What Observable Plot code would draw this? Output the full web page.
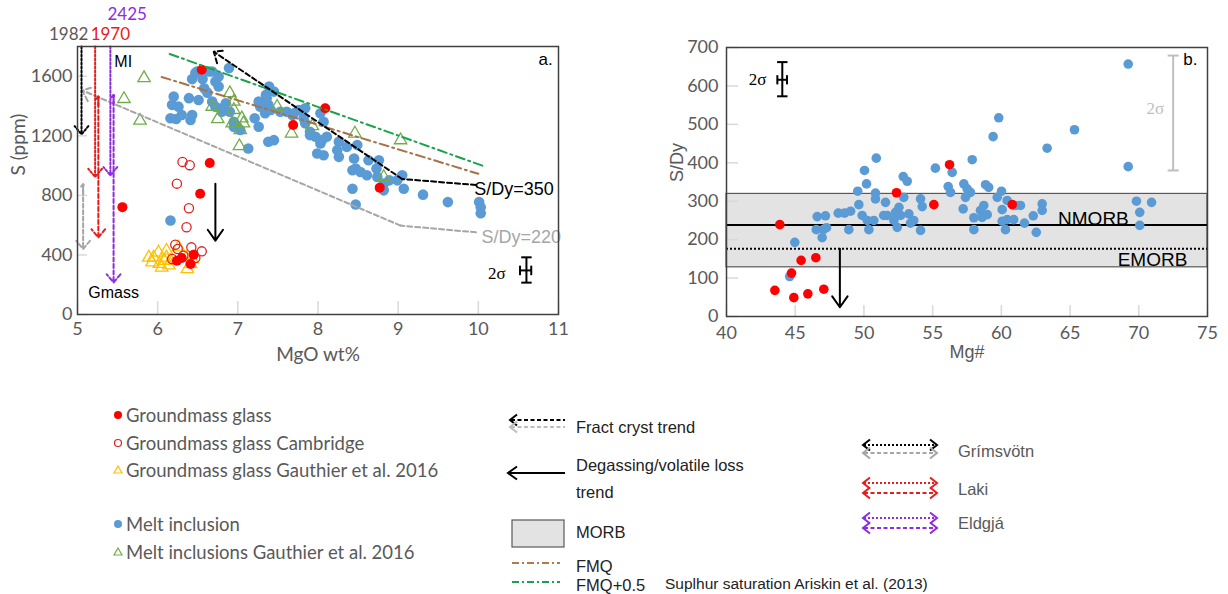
<!DOCTYPE html>
<html><head><meta charset="utf-8">
<script src="https://cdn.jsdelivr.net/npm/d3@7"></script>
<script src="https://cdn.jsdelivr.net/npm/@observablehq/plot@0.6"></script>
<style>
body{margin:0;background:#fff;}
#wrap{position:relative;width:1228px;height:594px;overflow:hidden;background:#fff;}
#wrap svg{position:absolute;}
</style></head><body><div id="wrap"></div>
<script>
// ---------- Panel a: S (ppm) vs MgO wt% ----------
const xTicksA = [5,6,7,8,9,10,11];
const yTicksA = [0,400,800,1200,1600];
const meltInclusionA = [[6.47,1622],[6.56,1581],[6.43,1581],[6.68,1632],[6.72,1565],[6.76,1599],[6.89,1655],[6.49,1632],[6.64,1632],[6.20,1464],[6.18,1408],[6.39,1453],[6.51,1441],[6.23,1313],[6.43,1340],[6.41,1306],[6.68,1430],[6.72,1396],[6.80,1385],[6.85,1419],[6.80,1362],[6.90,1362],[6.95,1295],[6.99,1261],[7.03,1239],[7.13,1115],[7.26,1261],[7.26,1430],[7.28,1396],[7.36,1453],[7.38,1408],[7.34,1352],[7.21,1318],[7.45,1171],[7.53,1362],[7.68,1340],[7.76,1374],[7.84,1385],[7.82,1318],[7.90,1227],[7.97,1194],[7.99,1081],[8.05,1171],[8.11,1194],[7.39,1531],[7.45,1497],[7.35,1475],[7.70,1352],[7.84,1284],[8.03,1352],[8.07,1295],[7.90,1205],[8.03,1149],[8.07,1070],[8.26,1160],[8.24,1104],[8.26,1059],[8.36,1126],[8.49,1138],[8.45,1048],[8.47,980],[8.43,969],[8.53,957],[8.61,935],[8.63,1036],[8.73,980],[8.76,1036],[8.74,924],[8.82,879],[8.89,901],[8.99,901],[9.05,935],[9.07,845],[8.82,834],[8.43,845],[8.47,739],[9.31,805],[9.62,755],[10.01,755],[10.03,721],[10.03,680],[6.16,631],[6.76,1531],[6.62,1490],[6.58,1520],[6.16,1318],[6.30,1340],[6.26,1396],[7.41,1374],[7.38,1160],[6.95,1261],[7.61,1362]];
const groundmassGlassA = [[6.55,1644],[7.69,1273],[8.09,1385],[8.77,852],[5.56,721],[6.65,1018],[6.53,811],[6.24,361],[6.45,402],[6.41,339],[6.30,380]];
const groundmassCambridgeA = [[6.31,1025],[6.40,1003],[6.24,879],[6.39,714],[6.36,586],[6.22,469],[6.42,451],[6.55,424],[6.18,373],[6.32,395],[6.25,440],[6.47,380]];
const groundmassGauthierA = [[5.89,383],[5.95,383],[6.01,417],[5.93,350],[6.05,316],[6.11,429],[6.11,383],[6.16,361],[6.08,361],[6.37,305],[6.36,383],[6.41,339],[6.26,451],[6.43,372],[6.02,340],[6.14,330]];
const meltInclusionGauthierA = [[5.83,1588],[5.58,1448],[5.78,1302],[6.90,1487],[6.68,1396],[6.95,1430],[6.95,1374],[6.75,1313],[6.93,1284],[7.05,1318],[7.07,1284],[7.03,1239],[7.02,1131],[7.49,1396],[7.67,1216],[7.93,1266],[8.46,1216],[9.03,1171],[8.82,924]];
const fmqLine = [[6.05,1595],[10.0,945]];
const fmqPlusLine = [[6.15,1750],[10.05,1000]];
const sdy350 = [[9.97,870],[9.05,910],[6.70,1765]];
const sdy220 = [[9.97,552],[9.03,597],[5.06,1505]];
const miArrows = [
  {volcano:"Grímsvötn", x:5.05, top:1800, bottom:1210},
  {volcano:"Laki", x:5.22, top:1800, bottom:924},
  {volcano:"Eldgjá", x:5.41, top:1800, bottom:935}];
const gmassArrows = [
  {volcano:"Grímsvötn", x:5.07, top:875, bottom:440},
  {volcano:"Laki", x:5.26, top:1464, bottom:518},
  {volcano:"Eldgjá", x:5.45, top:1475, bottom:215}];
const degassA = {x:6.72, top:879, bottom:496};
const errA = {x:10.6, y:299, sy:85, xLo:10.52, xHi:10.66, yH:296};

// ---------- Panel b: S/Dy vs Mg# ----------
const xTicksB = [40,45,50,55,60,65,70,75];
const yTicksB = [0,100,200,300,400,500,600,700];
const meltInclusionB = [[44.97,193],[44.6,104],[46.6,260],[47.2,262],[46.53,226],[47.04,226],[47.28,231],[46.96,205],[48.13,269],[48.59,269],[49.03,274],[48.9,226],[49.55,326],[50.04,380],[50.19,345],[49.63,291],[49.87,263],[50.24,250],[50.36,226],[50.9,412],[50.84,321],[50.84,306],[50.72,250],[51.44,263],[51.57,297],[51.69,263],[52.18,250],[52.3,271],[52.55,284],[52.67,263],[52.42,232],[52.86,364],[53.15,352],[52.9,310],[53.27,267],[53.63,250],[53.39,243],[54.12,306],[54.24,286],[54.12,224],[55.2,386],[56.42,375],[56.13,338],[56.3,323],[57.27,345],[57.51,332],[57.39,310],[57.75,323],[57.88,408],[57.22,280],[58.0,257],[58.0,226],[58.48,276],[58.6,258],[58.72,289],[58.85,343],[59.08,336],[58.97,265],[59.4,468],[59.81,517],[59.7,310],[60.01,326],[60.06,278],[60.06,248],[60.3,226],[60.42,302],[60.42,252],[60.9,252],[61.03,289],[61.39,289],[61.68,243],[62.32,262],[62.54,219],[62.97,293],[62.97,276],[63.33,438],[65.32,486],[69.23,657],[69.23,390],[69.83,300],[70.07,271],[70.07,237],[70.93,297]];
const groundmassGlassB = [[43.88,239],[43.52,68],[44.9,49],[45.92,59],[47.08,71],[44.73,113],[45.43,146],[46.5,153],[52.37,322],[55.09,291],[56.23,395],[60.79,291]];
const morb = {low:128, high:319, nmorb:238, emorb:176};
const degassB = {x:48.25, top:176, bottom:24};
const errB = {x:44.06, y:617.5, sy:44.5, xLo:43.7, xHi:44.4, yH:616};
const errB2 = {x:72.5, lo:380, hi:679};

const volcanoColor = {"Grímsvötn":"#000000","Laki":"#e81c1c","Eldgjá":"#8f2be0"};
const gmassColor = {"Grímsvötn":"#a6a6a6","Laki":"#e81c1c","Eldgjá":"#8f2be0"};

const BLUE="#5b9bd5", RED="#ff0000";
const axisFont = "Lato, 'Open Sans', sans-serif";
const arial = "'Liberation Sans', Arial, sans-serif";
const X = d=>d[0], Y = d=>d[1];

const wrap = document.getElementById("wrap");

// ---------- legend (drawn first, underneath) ----------
const leg = d3.select(wrap).append("svg").attr("width",1228).attr("height",594).style("left","0px").style("top","0px");
function chev(x,y,dir,color,s=7,h=5.5){
  leg.append("path").attr("d",`M${x+dir*s},${y-h}L${x},${y}L${x+dir*s},${y+h}`).attr("fill","none").attr("stroke",color).attr("stroke-width",2);
}
function hline(x1,x2,y,color,dash,w=2){
  leg.append("line").attr("x1",x1).attr("x2",x2).attr("y1",y).attr("y2",y).attr("stroke",color).attr("stroke-width",w).attr("stroke-dasharray",dash||null);
}
function txt(x,y,t,opt={}){
  leg.append("text").attr("x",x).attr("y",y).attr("dominant-baseline","central").attr("font-family",opt.font||arial).attr("font-size",opt.size||16.5).attr("fill",opt.fill||"#222").text(t);
}
const legendSeries = ["Groundmass glass","Groundmass glass Cambridge","Groundmass glass Gauthier et al. 2016","Melt inclusion","Melt inclusions Gauthier et al. 2016"];
const legY = [415,443,470,524,552];
leg.append("circle").attr("cx",118).attr("cy",legY[0]).attr("r",4).attr("fill",RED);
leg.append("circle").attr("cx",118).attr("cy",legY[1]).attr("r",3.5).attr("fill","none").attr("stroke","#e02020").attr("stroke-width",1.2);
leg.append("path").attr("d",`M118,${legY[2]-4}L122,${legY[2]+3}L114,${legY[2]+3}Z`).attr("fill","none").attr("stroke","#ffc000").attr("stroke-width",1.2);
leg.append("circle").attr("cx",118).attr("cy",legY[3]).attr("r",4).attr("fill",BLUE);
leg.append("path").attr("d",`M118,${legY[4]-4}L122,${legY[4]+3}L114,${legY[4]+3}Z`).attr("fill","none").attr("stroke","#70ad47").attr("stroke-width",1.2);
legendSeries.forEach((s,i)=>txt(126,legY[i],s,{font:axisFont,size:18.5,fill:"#595959"}));

// middle legend
hline(511,565,420,"#000","4,2.5"); chev(510,420,1,"#000");
hline(511,565,427,"#bdbdbd","4,2.5"); chev(510,427,1,"#bdbdbd");
txt(576,427,"Fract cryst trend");
hline(509,565,473,"#000",null); chev(508,473,1,"#000",9,6.5);
txt(576,465,"Degassing/volatile loss"); txt(576,492,"trend");
leg.append("rect").attr("x",512).attr("y",520).attr("width",52).attr("height",27).attr("fill","#e3e3e3").attr("stroke","#595959").attr("stroke-width",1.2);
txt(576,532,"MORB");
hline(512,560,563,"#b07a4a","7,3,2,3");
hline(512,560,582,"#1aa34a","7,3,2,3");
txt(576,566,"FMQ"); txt(576,585,"FMQ+0.5");
txt(665,583,"Suplhur saturation Ariskin et al. (2013)",{size:15.5});

// right legend
const volcLeg = [["Grímsvötn",445,453,451],["Laki",483,493,489],["Eldgjá",518,528,523]];
volcLeg.forEach(([v,ya,yb,yt])=>{
  hline(864,936,ya,volcanoColor[v],"2,2"); chev(863,ya,1,volcanoColor[v]); chev(937,ya,-1,volcanoColor[v]);
  hline(864,936,yb,gmassColor[v],"4,2.5"); chev(863,yb,1,gmassColor[v]); chev(937,yb,-1,gmassColor[v]);
  txt(958,yt,v,{fill:"#595959"});
});

// ---------- panel a ----------
const A = Plot.plot({
  width:600, height:380, marginLeft:77, marginRight:42, marginTop:46, marginBottom:66,
  x:{domain:[5,11]}, y:{domain:[0,1800]},
  style:{fontFamily:axisFont, fontSize:"18px", color:"#595959", background:"transparent", overflow:"visible"},
  marks:[
    Plot.tickX(xTicksA, {x:d=>d, insetTop:255, stroke:"#d9d9d9", strokeWidth:1.5}),
    Plot.tickY(yTicksA, {y:d=>d, insetRight:471, stroke:"#d9d9d9", strokeWidth:1.5}),
    Plot.axisX({ticks:xTicksA, tickSize:0, tickPadding:8, tickFormat:d=>String(d), label:null}),
    Plot.axisY({ticks:yTicksA, tickSize:0, tickPadding:5, tickFormat:d=>String(d), label:null}),
    Plot.text(["MgO wt%"], {frameAnchor:"bottom", dy:46, fontSize:19, fill:"#595959"}),
    Plot.text(["S (ppm)"], {frameAnchor:"left", rotate:-90, dx:-59, dy:-5, fontSize:19, fill:"#595959"}),
    Plot.dot(meltInclusionA, {x:X, y:Y, r:5.3, fill:BLUE}),
    Plot.dot(meltInclusionGauthierA, {x:X, y:Y, r:4.6, symbol:"triangle", fill:"none", stroke:"#70ad47", strokeWidth:1.3}),
    Plot.dot(groundmassGauthierA, {x:X, y:Y, r:4.6, symbol:"triangle", fill:"none", stroke:"#ffc000", strokeWidth:1.3}),
    Plot.dot(groundmassCambridgeA, {x:X, y:Y, r:4.6, fill:"none", stroke:"#e02020", strokeWidth:1.3}),
    Plot.dot(groundmassGlassA, {x:X, y:Y, r:5, fill:RED}),
    Plot.line(fmqLine, {x:X, y:Y, stroke:"#a87248", strokeWidth:2, strokeDasharray:"9,4,2,4"}),
    Plot.line(fmqPlusLine, {x:X, y:Y, stroke:"#1aa34a", strokeWidth:2, strokeDasharray:"9,4,2,4"}),
    Plot.line(sdy350.slice(0,2), {x:X, y:Y, stroke:"#000", strokeWidth:2, strokeDasharray:"5,3"}),
    Plot.arrow([sdy350], {x1:d=>d[1][0], y1:d=>d[1][1], x2:d=>d[2][0], y2:d=>d[2][1], stroke:"#000", strokeWidth:2, strokeDasharray:"5,3", headLength:9, headAngle:80}),
    Plot.line(sdy220.slice(0,2), {x:X, y:Y, stroke:"#a6a6a6", strokeWidth:2, strokeDasharray:"5,3"}),
    Plot.arrow([sdy220], {x1:d=>d[1][0], y1:d=>d[1][1], x2:d=>d[2][0], y2:d=>d[2][1], stroke:"#a6a6a6", strokeWidth:2, strokeDasharray:"5,3", headLength:9, headAngle:80}),
    Plot.arrow(miArrows, {x:d=>d.x, y1:d=>d.top, y2:d=>d.bottom, stroke:d=>volcanoColor[d.volcano], strokeWidth:2, strokeDasharray:"2,2", headLength:8, headAngle:80}),
    Plot.arrow(gmassArrows, {x:d=>d.x, y1:d=>d.top, y2:d=>d.bottom, stroke:d=>gmassColor[d.volcano], strokeWidth:2, strokeDasharray:"4,2.5", headLength:8, headAngle:80}),
    Plot.arrow(gmassArrows, {x:d=>d.x, y1:d=>d.top-60, y2:d=>d.top, stroke:d=>gmassColor[d.volcano], strokeWidth:2, headLength:8, headAngle:80, strokeDasharray:"4,2.5"}),
    Plot.arrow([degassA], {x:d=>d.x, y1:d=>d.top, y2:d=>d.bottom, stroke:"#000", strokeWidth:2, headLength:10, headAngle:70}),
    // error bar
    Plot.link([errA], {x1:d=>d.x, x2:d=>d.x, y1:d=>d.y-d.sy, y2:d=>d.y+d.sy, stroke:"#000", strokeWidth:2}),
    Plot.link([errA,errA], {x1:d=>d.x-0.065, x2:d=>d.x+0.065, y1:(d,i)=>d.y+(i?1:-1)*d.sy, y2:(d,i)=>d.y+(i?1:-1)*d.sy, stroke:"#000", strokeWidth:2}),
    Plot.link([errA], {x1:d=>d.xLo, x2:d=>d.xHi, y1:d=>d.yH, y2:d=>d.yH, stroke:"#000", strokeWidth:2}),
    Plot.link([errA,errA], {x1:(d,i)=>i?d.xHi:d.xLo, x2:(d,i)=>i?d.xHi:d.xLo, y1:d=>d.yH-32, y2:d=>d.yH+32, stroke:"#000", strokeWidth:2}),
    Plot.text(["2σ"], {x:10.23, y:273, fontFamily:"'Liberation Serif', serif", fontSize:17, fill:"#000"}),
    // annotations
    Plot.text(["1982"], {x:4.89, y:1880, fontSize:17, fill:"#595959"}),
    Plot.text(["1970"], {x:5.41, y:1880, fontSize:17, fill:"#e81c1c"}),
    Plot.text(["2425"], {x:5.62, y:2015, fontSize:17, fill:"#8f2be0"}),
    Plot.text(["MI"], {x:5.57, y:1698, fontFamily:arial, fontSize:16, fill:"#000"}),
    Plot.text(["Gmass"], {x:5.45, y:145, fontFamily:arial, fontSize:16, fill:"#000"}),
    Plot.text(["a."], {x:10.84, y:1711, fontFamily:arial, fontSize:17, fill:"#000"}),
    Plot.text(["S/Dy=350"], {x:9.95, y:840, textAnchor:"start", fontFamily:arial, fontSize:18, fill:"#000"}),
    Plot.text(["S/Dy=220"], {x:10.04, y:516, textAnchor:"start", fontFamily:arial, fontSize:18, fill:"#a6a6a6"}),
    Plot.frame({stroke:"#404040", strokeWidth:1.5})
  ]
});
A.style.left="0px"; A.style.top="0px";
wrap.appendChild(A);

// ---------- panel b ----------
const B = Plot.plot({
  width:608, height:380, marginLeft:106, marginRight:21, marginTop:47, marginBottom:64,
  x:{domain:[40,75]}, y:{domain:[0,700]},
  style:{fontFamily:axisFont, fontSize:"18px", color:"#595959", background:"transparent", overflow:"visible"},
  marks:[
    Plot.rect([morb], {x1:40, x2:75, y1:d=>d.low, y2:d=>d.high, fill:"#e3e3e3", stroke:"#595959", strokeWidth:1.2}),
    Plot.tickX(xTicksB, {x:d=>d, insetTop:258, stroke:"#d9d9d9", strokeWidth:1.5}),
    Plot.tickY(yTicksB, {y:d=>d, insetRight:469, stroke:"#d9d9d9", strokeWidth:1.5}),
    Plot.axisX({ticks:xTicksB, tickSize:0, tickPadding:10, tickFormat:d=>String(d), label:null}),
    Plot.axisY({ticks:yTicksB, tickSize:0, tickPadding:8, tickFormat:d=>String(d), label:null}),
    Plot.text(["Mg#"], {frameAnchor:"bottom", dy:41, fontFamily:arial, fontSize:18, fill:"#595959"}),
    Plot.text(["S/Dy"], {frameAnchor:"left", rotate:-90, dx:-49, fontFamily:arial, fontSize:18, fill:"#595959"}),
    Plot.ruleY([morb], {y:d=>d.nmorb, stroke:"#000", strokeWidth:2}),
    Plot.ruleY([morb], {y:d=>d.emorb, stroke:"#000", strokeWidth:2, strokeDasharray:"2,2"}),
    Plot.dot(meltInclusionB, {x:X, y:Y, r:4.8, fill:BLUE}),
    Plot.dot(groundmassGlassB, {x:X, y:Y, r:4.8, fill:RED}),
    Plot.arrow([degassB], {x:d=>d.x, y1:d=>d.top, y2:d=>d.bottom, stroke:"#000", strokeWidth:2, headLength:10, headAngle:70}),
    Plot.text(["NMORB"], {x:66.7, y:255, fontFamily:arial, fontSize:19, fill:"#000"}),
    Plot.text(["EMORB"], {x:71.0, y:148, fontFamily:arial, fontSize:19, fill:"#000"}),
    // black error bar
    Plot.link([errB], {x1:d=>d.x, x2:d=>d.x, y1:d=>d.y-d.sy, y2:d=>d.y+d.sy, stroke:"#000", strokeWidth:2}),
    Plot.link([errB,errB], {x1:d=>d.x-0.38, x2:d=>d.x+0.38, y1:(d,i)=>d.y+(i?1:-1)*d.sy, y2:(d,i)=>d.y+(i?1:-1)*d.sy, stroke:"#000", strokeWidth:2}),
    Plot.link([errB], {x1:d=>d.xLo, x2:d=>d.xHi, y1:d=>d.yH, y2:d=>d.yH, stroke:"#000", strokeWidth:2}),
    Plot.link([errB,errB], {x1:(d,i)=>i?d.xHi:d.xLo, x2:(d,i)=>i?d.xHi:d.xLo, y1:d=>d.yH-12, y2:d=>d.yH+12, stroke:"#000", strokeWidth:2}),
    Plot.text(["2σ"], {x:42.26, y:617, fontFamily:"'Liberation Serif', serif", fontSize:17, fill:"#000"}),
    // gray error bar
    Plot.link([errB2], {x1:d=>d.x, x2:d=>d.x, y1:d=>d.lo, y2:d=>d.hi, stroke:"#bfbfbf", strokeWidth:2}),
    Plot.link([errB2,errB2], {x1:d=>d.x-0.4, x2:d=>d.x+0.4, y1:(d,i)=>i?d.hi:d.lo, y2:(d,i)=>i?d.hi:d.lo, stroke:"#bfbfbf", strokeWidth:2}),
    Plot.text(["2σ"], {x:71.2, y:541, fontFamily:"'Liberation Serif', serif", fontSize:17, fill:"#bfbfbf"}),
    Plot.text(["b."], {x:73.76, y:669, fontFamily:arial, fontSize:17, fill:"#000"}),
    Plot.frame({stroke:"#404040", strokeWidth:1.5})
  ]
});
B.style.left="620px"; B.style.top="0px";
wrap.appendChild(B);
</script>
</body></html>
